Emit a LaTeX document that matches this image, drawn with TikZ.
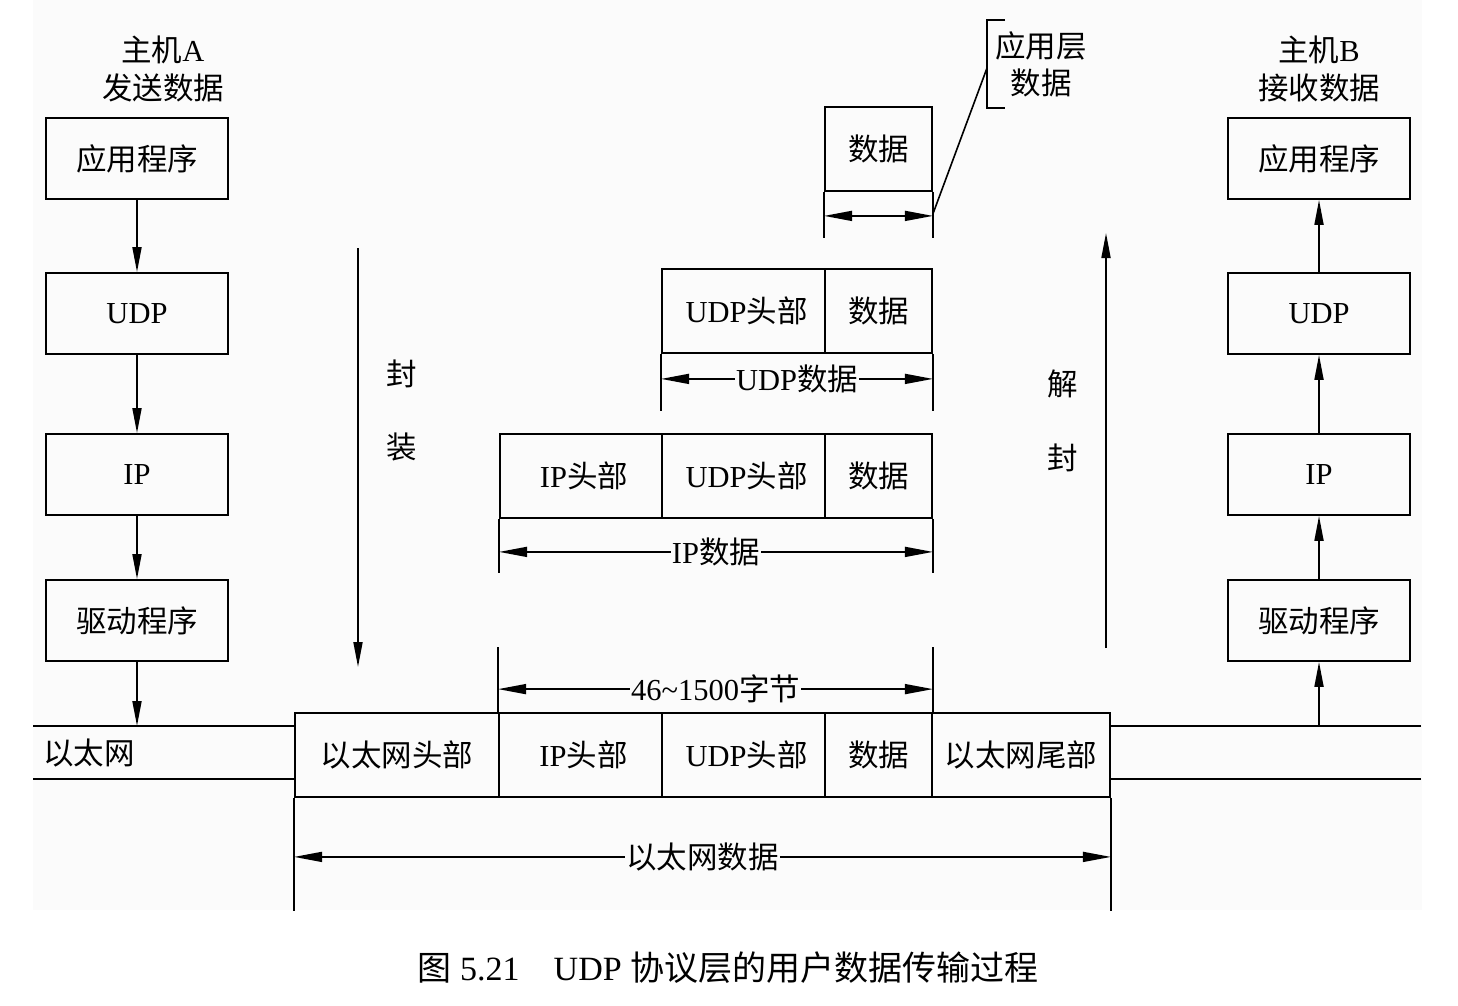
\documentclass[tikz,border=0pt]{standalone}
\usepackage{fontspec}
\setmainfont{Liberation Serif}
\newfontfamily\cjk{Noto Sans CJK SC}
\usetikzlibrary{arrows.meta,calc}
\definecolor{paper}{RGB}{251,251,251}
\tikzset{
  lw/.style={line width=1.8pt},
  txt/.style={font=\fontsize{30.5}{37}\selectfont, inner sep=0pt},
  layerbox/.style={draw, line width=1.8pt, minimum width=182pt, minimum height=81pt,
    inner sep=0pt, font=\fontsize{30.5}{37}\selectfont},
  cell/.style={draw, line width=1.8pt, minimum height=84pt, inner sep=0pt,
    font=\fontsize{30.5}{37}\selectfont},
  flow/.style={line width=1.8pt, -{Triangle[length=25pt,width=9pt]}},
  dimarrow/.style={line width=1.6pt,
    {Triangle[length=28pt,width=10pt]}-{Triangle[length=28pt,width=10pt]}},
  ext/.style={line width=1.6pt},
  dimlbl/.style={txt, fill=paper, inner xsep=1pt, inner ysep=2pt},
}
\begin{document}
\begin{tikzpicture}[x=1pt,y=-1pt]
\useasboundingbox (0,0) rectangle (1458,1005);
\fill[paper] (33,0) rectangle (1422,910);

% ---- host A (sender) ----
\node[txt] (hostA) at (163,50) {{\cjk 主机}A};
\node[txt] (hostAsub) at (163,88) {\cjk 发送数据};
\node[layerbox] (la) at (137,158.5) {\cjk 应用程序};
\node[layerbox] (lb) at (137,313.5) {UDP};
\node[layerbox] (lc) at (137,474.5) {IP};
\node[layerbox] (ld) at (137,620.5) {\cjk 驱动程序};

% ---- host B (receiver) ----
\node[txt] (hostB) at (1319,50) {{\cjk 主机}B};
\node[txt] (hostBsub) at (1319,88) {\cjk 接收数据};
\node[layerbox] (ra) at (1319,158.5) {\cjk 应用程序};
\node[layerbox] (rb) at (1319,313.5) {UDP};
\node[layerbox] (rc) at (1319,474.5) {IP};
\node[layerbox] (rd) at (1319,620.5) {\cjk 驱动程序};

% ---- Ethernet frame ----
\node[cell, minimum width=204pt] (eH) at (397,755) {\cjk 以太网头部};
\node[cell, minimum width=163pt] (eIP) at (580.5,755) {\hspace{6pt}IP{\cjk 头部}};
\node[cell, minimum width=163pt] (eU) at (743.5,755) {\hspace{6pt}UDP{\cjk 头部}};
\node[cell, minimum width=107pt] (eD) at (878.5,755) {\cjk 数据};
\node[cell, minimum width=178pt] (eT) at (1021,755) {\cjk 以太网尾部};

% ---- IP datagram ----
\node[cell, minimum width=162pt] (iH) at (581,476) {\hspace{6pt}IP{\cjk 头部}};
\node[cell, minimum width=163pt] (iU) at (743.5,476) {\hspace{6pt}UDP{\cjk 头部}};
\node[cell, minimum width=107pt] (iD) at (878.5,476) {\cjk 数据};

% ---- UDP datagram ----
\node[cell, minimum width=163pt] (uU) at (743.5,311) {\hspace{6pt}UDP{\cjk 头部}};
\node[cell, minimum width=107pt] (uD) at (878.5,311) {\cjk 数据};

% ---- application data ----
\node[cell, minimum width=107pt] (aD) at (878.5,149) {\cjk 数据};

% Ethernet cable
\coordinate (ethL1) at (33,726);
\coordinate (ethL2) at (33,779);
\coordinate (ethR1) at (1421,726);
\coordinate (ethR2) at (1421,779);
\draw[lw] (ethL1) -- (ethL1 -| eH.west);
\draw[lw] (ethL2) -- (ethL2 -| eH.west);
\draw[lw] (ethR1) -- (ethR1 -| eT.east);
\draw[lw] (ethR2) -- (ethR2 -| eT.east);
\node[txt, anchor=west] (ethlbl) at (43,753) {\cjk 以太网};

% layer arrows, sender
\draw[flow] (la.south) -- (lb.north);
\draw[flow] (lb.south) -- (lc.north);
\draw[flow] (lc.south) -- (ld.north);
\draw[flow] (ld.south) -- (ld.south |- ethL1);
% layer arrows, receiver
\draw[flow] (rd.south |- ethR1) -- (rd.south);
\draw[flow] (rd.north) -- (rc.south);
\draw[flow] (rc.north) -- (rb.south);
\draw[flow] (rb.north) -- (ra.south);

% encapsulation / decapsulation
\coordinate (encTop) at (358,248);
\coordinate (encBot) at (358,667);
\draw[flow] (encTop) -- (encBot);
\node[txt] (enc1) at (402,374) {\cjk 封};
\node[txt] (enc2) at (402,447) {\cjk 装};
\coordinate (decBot) at (1106,648);
\coordinate (decTop) at (1106,233);
\draw[flow] (decBot) -- (decTop);
\node[txt] (dec1) at (1063,384) {\cjk 解};
\node[txt] (dec2) at (1063,458) {\cjk 封};

% dimension: application data
\draw[ext] (aD.south west) -- ++(0,46);
\draw[ext] (aD.south east) -- ++(0,46);
\draw[dimarrow] ($(aD.south west)+(0,24)$) -- ($(aD.south east)+(0,24)$);
\coordinate (lead) at (987,68);
\draw[ext] ($(aD.south east)+(0,22)$) -- (lead);
\draw[ext] (1005,20) -- (987,20) -- (987,108) -- (1005,108);
\node[txt, align=center] (appLbl) at (1041,64) {\cjk 应用层\\\cjk 数据};

% dimension: UDP data
\draw[ext] (uU.south west) -- ++(0,57);
\draw[ext] (uD.south east) -- ++(0,57);
\draw[dimarrow] ($(uU.south west)+(0,25)$) -- ($(uD.south east)+(0,25)$)
  node[dimlbl, midway] (udpLbl) {UDP{\cjk 数据}};

% dimension: IP data
\draw[ext] (iH.south west) -- ++(0,54);
\draw[ext] (iD.south east) -- ++(0,54);
\draw[dimarrow] ($(iH.south west)+(0,33)$) -- ($(iD.south east)+(0,33)$)
  node[dimlbl, midway] (ipLbl) {IP{\cjk 数据}};

% dimension: 46~1500 bytes
\draw[ext] (eIP.north west) -- ++(0,-65);
\draw[ext] (eD.north east) -- ++(0,-65);
\draw[dimarrow] ($(eIP.north west)+(0,-23)$) -- ($(eD.north east)+(0,-23)$)
  node[dimlbl, midway] (lenLbl) {46\textasciitilde1500{\cjk 字节}};

% dimension: Ethernet data
\draw[ext] (eH.south west) -- ++(0,113);
\draw[ext] (eT.south east) -- ++(0,113);
\draw[dimarrow] ($(eH.south west)+(0,59)$) -- ($(eT.south east)+(0,59)$)
  node[dimlbl, midway] (ethLbl) {\cjk 以太网数据};

% caption
\node[font=\fontsize{34}{38}\selectfont, inner sep=0pt] (cap) at (728,968)
  {{\cjk 图} 5.21\quad UDP {\cjk 协议层的用户数据传输过程}};
\end{tikzpicture}
\end{document}
